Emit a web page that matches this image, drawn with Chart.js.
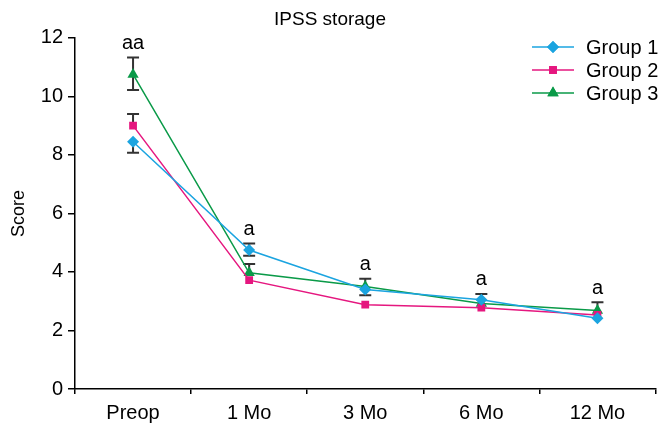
<!DOCTYPE html>
<html>
<head>
<meta charset="utf-8">
<script src="https://cdn.jsdelivr.net/npm/chart.js@4.4.1/dist/chart.umd.min.js"></script>
<style>
html,body{margin:0;padding:0;background:#fff;}
#wrap{width:662px;height:425px;}
</style>
</head>
<body>
<div id="wrap"><canvas id="c" width="662" height="425"></canvas></div>
<script>
const categories = ["Preop", "1 Mo", "3 Mo", "6 Mo", "12 Mo"];
const seriesNames = ["Group 1", "Group 2", "Group 3"];
const group1 = [8.45, 4.75, 3.40, 3.05, 2.42];
const group2 = [9.00, 3.72, 2.88, 2.78, 2.53];
const group3 = [10.75, 3.97, 3.50, 2.92, 2.68];
const group1ErrUp = [null, 0.22, null, 0.20, null];
const group1ErrDown = [0.38, 0.20, null, null, null];
const group2ErrUp = [0.40, null, null, null, null];
const group2ErrDown = [null, null, null, null, null];
const group3ErrUp = [0.58, 0.30, 0.27, null, 0.28];
const group3ErrDown = [0.53, null, 0.30, null, null];
const significance = ["aa", "a", "a", "a", "a"];
const yTicks = [0, 2, 4, 6, 8, 10, 12];

const FONT = "'Liberation Sans', Arial, sans-serif";
const colors = ["#1ba4e0", "#e5177f", "#0a9a48"];
const pointStyles = ["rectRot", "rect", "triangle"];
const pointRadii = [6, 5.5, 6.5];

const errUps = [group1ErrUp, group2ErrUp, group3ErrUp];
const errDowns = [group1ErrDown, group2ErrDown, group3ErrDown];
const values = [group1, group2, group3];

const errorBarPlugin = {
  id: 'errorBars',
  beforeDatasetsDraw(chart) {
    const ctx = chart.ctx;
    const xs = chart.scales.x, ys = chart.scales.y;
    ctx.save();
    ctx.strokeStyle = '#333333';
    ctx.lineWidth = 2;
    const cap = 6;
    for (let s = 0; s < values.length; s++) {
      for (let i = 0; i < categories.length; i++) {
        const x = xs.getPixelForValue(i);
        const v = values[s][i];
        const y0 = ys.getPixelForValue(v);
        const up = errUps[s][i], dn = errDowns[s][i];
        if (up != null) {
          const y1 = ys.getPixelForValue(v + up);
          ctx.beginPath();
          ctx.moveTo(x, y0); ctx.lineTo(x, y1);
          ctx.moveTo(x - cap, y1); ctx.lineTo(x + cap, y1);
          ctx.stroke();
        }
        if (dn != null) {
          const y1 = ys.getPixelForValue(v - dn);
          ctx.beginPath();
          ctx.moveTo(x, y0); ctx.lineTo(x, y1);
          ctx.moveTo(x - cap, y1); ctx.lineTo(x + cap, y1);
          ctx.stroke();
        }
      }
    }
    ctx.restore();
  },
  afterDatasetsDraw(chart) {
    const ctx = chart.ctx;
    const xs = chart.scales.x, ys = chart.scales.y;
    ctx.save();
    ctx.fillStyle = '#000';
    ctx.font = "20px " + FONT;
    ctx.textAlign = 'center';
    ctx.textBaseline = 'bottom';
    for (let i = 0; i < categories.length; i++) {
      let top = -Infinity;
      for (let s = 0; s < values.length; s++) {
        const t = values[s][i] + (errUps[s][i] || 0);
        if (t > top) top = t;
      }
      const x = xs.getPixelForValue(i);
      const y = ys.getPixelForValue(top) - 4;
      ctx.fillText(significance[i], x, y);
    }
    // legend
    const lx0 = 532, lx1 = 574, tx = 586;
    const rows = [47, 70, 93];
    ctx.font = "20px " + FONT;
    ctx.textAlign = 'left';
    ctx.textBaseline = 'middle';
    for (let s = 0; s < seriesNames.length; s++) {
      const y = rows[s];
      ctx.strokeStyle = colors[s];
      ctx.lineWidth = 1.5;
      ctx.beginPath(); ctx.moveTo(lx0, y); ctx.lineTo(lx1, y); ctx.stroke();
      ctx.fillStyle = colors[s];
      Chart.helpers.drawPoint(ctx, {pointStyle: pointStyles[s], radius: pointRadii[s], rotation: 0, borderWidth: 0}, (lx0 + lx1) / 2, y);
      ctx.fill();
      ctx.fillStyle = '#000';
      ctx.fillText(seriesNames[s], tx, y + 1);
    }
    ctx.restore();
  }
};

const datasets = values.map((v, s) => ({
  label: seriesNames[s],
  data: v,
  borderColor: colors[s],
  backgroundColor: colors[s],
  borderWidth: 1.5,
  pointStyle: pointStyles[s],
  pointRadius: pointRadii[s],
  pointBorderWidth: 0,
  pointBackgroundColor: colors[s],
  tension: 0,
  fill: false
}));

new Chart(document.getElementById('c'), {
  type: 'line',
  data: { labels: categories, datasets },
  plugins: [errorBarPlugin],
  options: {
    responsive: false,
    animation: false,
    devicePixelRatio: 1,
    layout: { padding: { left: 0, right: 2, top: 0, bottom: 0 } },
    plugins: {
      legend: { display: false },
      tooltip: { enabled: false },
      title: {
        display: true,
        text: 'IPSS storage',
        color: '#000',
        font: { family: FONT, size: 19, weight: 'normal' },
        padding: { top: 8, bottom: 7 }
      }
    },
    scales: {
      x: {
        offset: true,
        grid: { offset: true, drawOnChartArea: false, drawTicks: true, tickLength: 5, color: '#000', lineWidth: 1.5 },
        border: { color: '#000', width: 1.5 },
        ticks: { color: '#000', font: { family: FONT, size: 20 }, padding: 7, maxRotation: 0 },
        afterFit(scale) { scale.height = 36; }
      },
      y: {
        min: 0, max: 12,
        afterBuildTicks(scale) { scale.ticks = yTicks.map(v => ({ value: v })); },
        grid: { drawOnChartArea: false, drawTicks: true, tickLength: 7, color: '#000', lineWidth: 1.5 },
        border: { color: '#000', width: 1.5 },
        ticks: { color: '#000', font: { family: FONT, size: 20 }, padding: 5 },
        title: { display: true, text: 'Score', color: '#000', font: { family: FONT, size: 18 }, padding: { top: 8, bottom: 0 } },
        afterFit(scale) { scale.width = 75; }
      }
    }
  }
});
</script>
</body>
</html>
